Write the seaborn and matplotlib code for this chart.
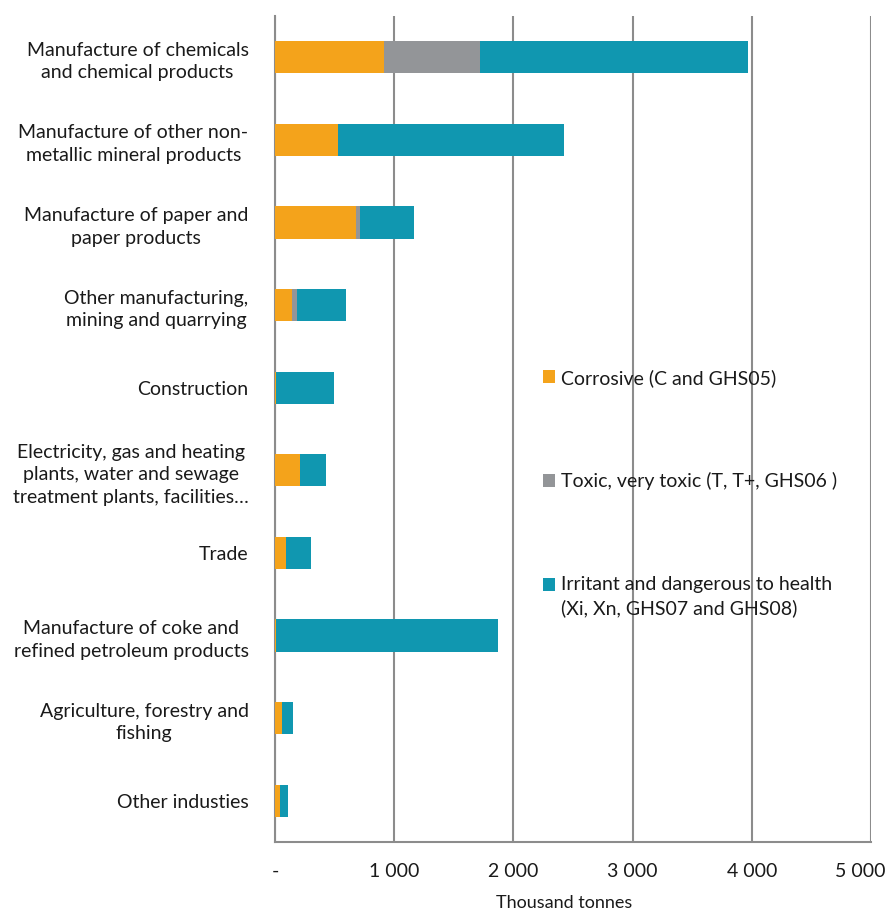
import numpy as np
import pandas as pd
import matplotlib
matplotlib.use("Agg")
import matplotlib.pyplot as plt
import seaborn as sns
from matplotlib.patches import Patch
from matplotlib.ticker import FuncFormatter, MultipleLocator

industries = [
    "Manufacture of chemicals\nand chemical products",
    "Manufacture of other non-\nmetallic mineral products",
    "Manufacture of paper and\npaper products",
    "Other manufacturing,\nmining and quarrying",
    "Construction",
    "Electricity, gas and heating\nplants, water and sewage\ntreatment plants, facilities\u2026",
    "Trade",
    "Manufacture of coke and\nrefined petroleum products",
    "Agriculture, forestry and\nfishing",
    "Other industies",
]
corrosive = [918, 530, 680, 143, 8, 210, 92, 6, 61, 40]
toxic = [802, 0, 34, 39, 0, 0, 0, 0, 0, 0]
irritant = [2250, 1895, 456, 412, 485, 216, 208, 1868, 90, 72]

series = [
    "Corrosive (C and GHS05)",
    "Toxic, very toxic (T, T+, GHS06 )",
    "Irritant and dangerous to health\n(Xi, Xn, GHS07 and GHS08)",
]
colors = ["#F4A31B", "#939598", "#1097B0"]
x_max = 5000


def fmt(v):
    return "-" if v == 0 else f"{int(v):,}".replace(",", " ")


df = pd.DataFrame({"industry": industries, "c": corrosive, "t": toxic, "i": irritant})
df["c_cum"] = df["c"]
df["t_cum"] = df["c"] + df["t"]
df["i_cum"] = df["t_cum"] + df["i"]

sns.set_style("white")
plt.rcParams["font.family"] = ["Lato", "DejaVu Sans"]

fig = plt.figure(figsize=(8.91, 9.10), dpi=100)
ax = fig.add_axes([0.3086, 0.0747, 0.669, 0.9077])

# stacked: draw the totals first, then the lower layers on top
for col, colr in [("i_cum", colors[2]), ("t_cum", colors[1]), ("c_cum", colors[0])]:
    sns.barplot(data=df, x=col, y="industry", orient="h", color=colr,
                width=0.39, saturation=1, ax=ax, zorder=3, linewidth=0)

ax.set_xlim(0, x_max)
ax.set_ylim(len(industries) - 0.5, -0.5)
ax.xaxis.set_major_locator(MultipleLocator(1000))
# the last label is drawn separately, nudged left so it fits in the figure
ax.xaxis.set_major_formatter(FuncFormatter(lambda v, p: "" if v >= x_max else fmt(v)))
ax.annotate(fmt(x_max), xy=(x_max, 0), xycoords=("data", "axes fraction"),
            xytext=(-8, -15), textcoords="offset points", ha="center", va="top",
            fontsize=14, color="#1a1a1a")
ax.grid(axis="x", color="#8c8c8c", linewidth=1.5, zorder=0)
ax.grid(axis="y", visible=False)

for s in ["top", "right"]:
    ax.spines[s].set_visible(False)
for s in ["left", "bottom"]:
    ax.spines[s].set_color("#8c8c8c")
    ax.spines[s].set_linewidth(1.5)

ax.set_yticks(np.arange(-0.5, len(industries) + 0.5, 1), minor=True)
ax.tick_params(axis="y", which="major", length=0, pad=19, labelsize=14, labelcolor="#1a1a1a")
ax.tick_params(axis="y", which="minor", length=6, width=1.5, color="#8c8c8c", direction="out")
ax.tick_params(axis="x", which="major", length=5, width=1.5, color="#8c8c8c",
               direction="out", pad=10, labelsize=14, labelcolor="#1a1a1a")
for lab in ax.get_yticklabels():
    lab.set_multialignment("center")
    lab.set_linespacing(1.4)

ax.set_ylabel("")
ax.set_xlabel("Thousand tonnes", fontsize=13, color="#1a1a1a")
ax.xaxis.set_label_coords(0.485, -0.064)

handles = [Patch(facecolor=c, edgecolor="none") for c in colors]
leg = ax.legend(handles, series, loc="upper left", bbox_to_anchor=(0.42, 0.594),
                frameon=False, fontsize=14, handlelength=0.65, handleheight=0.65,
                handletextpad=0.3, labelspacing=4.4)
for t in leg.get_texts():
    t.set_color("#1a1a1a")
    t.set_linespacing(1.4)
# put the square of the two-line entry next to its first line
h = leg.legend_handles[2]
h.set_y(h.get_y() + 0.7 * 14 * 0.88)

fig.savefig("out.png", dpi=100)
